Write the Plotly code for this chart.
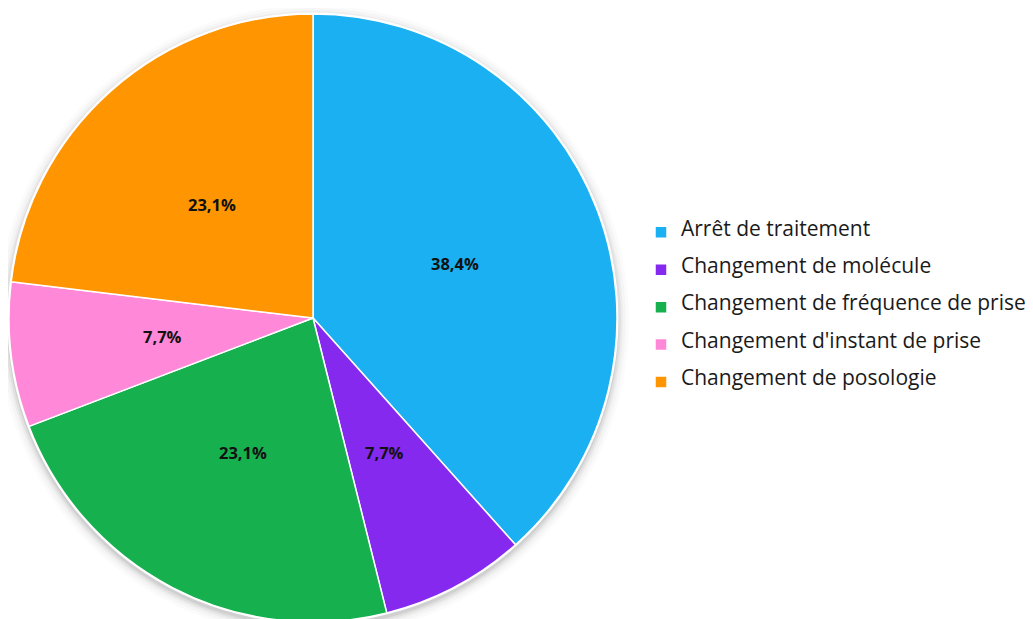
import math
import plotly.graph_objects as go

categories = [
    "Arrêt de traitement",
    "Changement de molécule",
    "Changement de fréquence de prise",
    "Changement d'instant de prise",
    "Changement de posologie",
]
values = [38.4, 7.7, 23.1, 7.7, 23.1]
colors = ["#1AB0F1", "#8529EE", "#16B04F", "#FF88D8", "#FF9500"]

W, H = 1033, 619
# the page body adds an 8px offset; pie geometry in figure pixels
CX, CY, R = 305, 310, 304

legend_labels = [
    f"<span style='font-size:21px;baseline-shift:7.5px'>{c}</span>" for c in categories
]

fig = go.Figure()
fig.add_trace(go.Pie(
    labels=legend_labels,
    values=values,
    sort=False,
    direction="clockwise",
    rotation=0,
    marker=dict(colors=colors, line=dict(color="white", width=1.5)),
    textinfo="none",
    hoverinfo="percent",
    domain=dict(x=[(CX - R) / W, (CX + R) / W], y=[(H - CY - R) / H, (H - CY + R) / H]),
))

# soft shadow behind the pie
shapes = []
for dr, op in [(12, 0.015), (9, 0.025), (6, 0.035), (4, 0.05), (2, 0.07)]:
    rr = R + dr
    cy_s = CY + 3
    shapes.append(dict(
        type="circle", xref="paper", yref="paper", layer="below",
        x0=(CX - rr) / W, x1=(CX + rr) / W,
        y0=(H - cy_s - rr) / H, y1=(H - cy_s + rr) / H,
        fillcolor=f"rgba(0,0,0,{op})", line=dict(width=0),
    ))
# white ring around the pie
shapes.append(dict(
    type="circle", xref="paper", yref="paper", layer="below",
    x0=(CX - R - 1.5) / W, x1=(CX + R + 1.5) / W,
    y0=(H - CY - R - 1.5) / H, y1=(H - CY + R + 1.5) / H,
    fillcolor="white", line=dict(width=0),
))

# percentage labels at half radius on each slice's mid-angle
total = sum(values)
annotations = []
cum = 0.0
for v in values:
    mid = (cum + v / 2) / total * 2 * math.pi
    cum += v
    px = CX + 0.5 * R * math.sin(mid)
    py = CY - 0.5 * R * math.cos(mid)
    annotations.append(dict(
        x=px / W, y=1 - py / H, xref="paper", yref="paper",
        xanchor="center", yanchor="middle",
        text=f"<b>{v:.1f}%</b>".replace(".", ","),
        showarrow=False,
        font=dict(family="Open Sans", size=16.5, color="#111111"),
    ))

fig.update_layout(
    width=W,
    height=H,
    margin=dict(l=0, r=0, t=0, b=0),
    paper_bgcolor="white",
    plot_bgcolor="white",
    font=dict(family="Open Sans", color="#1a1a1a"),
    shapes=shapes,
    annotations=annotations,
    legend=dict(
        x=633 / W,
        xanchor="left",
        y=1 - 299.5 / H,
        yanchor="middle",
        font=dict(family="Open Sans", size=26.5, color="#1a1a1a"),
        bgcolor="rgba(0,0,0,0)",
        itemclick=False,
    ),
)

fig.write_html("out.html")
